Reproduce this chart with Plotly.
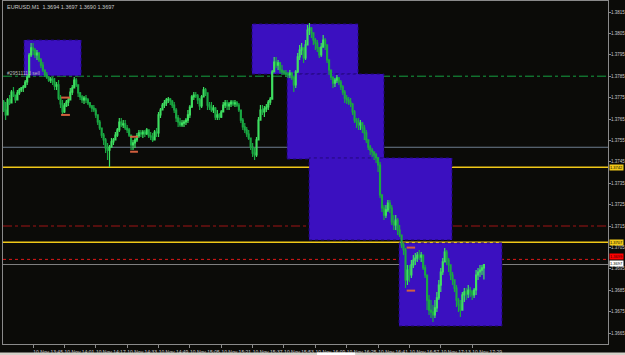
import plotly.graph_objects as go

# ---------------- data (EURUSD M1, 10 Nov 2010, 13:29 .. 17:35) ----------------
first_open = 1.37740
closes = [
    1.37729, 1.37692, 1.37669, 1.37739, 1.37725, 1.37776, 1.37762, 1.37739, 1.37772, 1.37786,
    1.37795, 1.37800, 1.37823, 1.37846, 1.37949, 1.37982, 1.37972, 1.37949, 1.37958, 1.37926,
    1.37902, 1.37879, 1.37856, 1.37846, 1.37832, 1.37837, 1.37823, 1.37804, 1.37809, 1.37748,
    1.37720, 1.37683, 1.37711, 1.37729, 1.37739, 1.37776, 1.37795, 1.37832, 1.37809, 1.37772,
    1.37753, 1.37739, 1.37748, 1.37739, 1.37725, 1.37711, 1.37701, 1.37692, 1.37669, 1.37636,
    1.37608, 1.37575, 1.37552, 1.37515, 1.37505, 1.37519, 1.37543, 1.37552, 1.37575, 1.37599,
    1.37636, 1.37622, 1.37627, 1.37608, 1.37599, 1.37575, 1.37529, 1.37538, 1.37552, 1.37571,
    1.37585, 1.37580, 1.37589, 1.37580, 1.37599, 1.37571, 1.37566, 1.37552, 1.37589, 1.37585,
    1.37669, 1.37692, 1.37715, 1.37725, 1.37739, 1.37743, 1.37734, 1.37715, 1.37692, 1.37655,
    1.37636, 1.37622, 1.37631, 1.37636, 1.37645, 1.37669, 1.37706, 1.37753, 1.37762, 1.37758,
    1.37739, 1.37711, 1.37753, 1.37786, 1.37772, 1.37715, 1.37706, 1.37692, 1.37701, 1.37659,
    1.37669, 1.37659, 1.37683, 1.37715, 1.37725, 1.37711, 1.37720, 1.37729, 1.37720, 1.37725,
    1.37715, 1.37692, 1.37645, 1.37613, 1.37599, 1.37580, 1.37561, 1.37519, 1.37491, 1.37482,
    1.37552, 1.37645, 1.37692, 1.37683, 1.37697, 1.37706, 1.37729, 1.37743, 1.37870, 1.37916,
    1.37902, 1.37912, 1.37879, 1.37870, 1.37865, 1.37860, 1.37856, 1.37865, 1.37842, 1.37809,
    1.37870, 1.37940, 1.37972, 1.37982, 1.37935, 1.37996, 1.38066, 1.38075, 1.38052, 1.38019,
    1.38005, 1.37982, 1.37949, 1.37986, 1.38019, 1.37996, 1.37926, 1.37879, 1.37846, 1.37818,
    1.37832, 1.37842, 1.37823, 1.37800, 1.37776, 1.37748, 1.37739, 1.37729, 1.37720, 1.37683,
    1.37645, 1.37636, 1.37622, 1.37631, 1.37608, 1.37585, 1.37552, 1.37519, 1.37505, 1.37496,
    1.37482, 1.37468, 1.37435, 1.37295, 1.37234, 1.37201, 1.37225, 1.37257, 1.37234, 1.37169,
    1.37155, 1.37178, 1.37131, 1.37108, 1.37061, 1.37038, 1.36898, 1.36944, 1.36921, 1.36968,
    1.36991, 1.37000, 1.37014, 1.37005, 1.37014, 1.36954, 1.36921, 1.36804, 1.36757, 1.36748,
    1.36734, 1.36767, 1.36814, 1.36874, 1.36935, 1.36982, 1.37028, 1.36991, 1.36968, 1.36921,
    1.36898, 1.36860, 1.36804, 1.36781, 1.36757, 1.36828, 1.36842, 1.36832, 1.36851, 1.36842,
    1.36828, 1.36851, 1.36921, 1.36935, 1.36944, 1.36954, 1.36970,
]
highs = [
    1.37748, 1.37739, 1.37729, 1.37748, 1.37762, 1.37786, 1.37800, 1.37762, 1.37786, 1.37795,
    1.37800, 1.37809, 1.37832, 1.37856, 1.37958, 1.38005, 1.38005, 1.37982, 1.37972, 1.37963,
    1.37935, 1.37916, 1.37879, 1.37870, 1.37851, 1.37846, 1.37846, 1.37842, 1.37823, 1.37832,
    1.37762, 1.37739, 1.37725, 1.37739, 1.37748, 1.37795, 1.37809, 1.37846, 1.37842, 1.37809,
    1.37776, 1.37762, 1.37758, 1.37762, 1.37748, 1.37729, 1.37715, 1.37715, 1.37701, 1.37659,
    1.37645, 1.37608, 1.37585, 1.37561, 1.37538, 1.37529, 1.37561, 1.37561, 1.37589, 1.37608,
    1.37655, 1.37655, 1.37645, 1.37645, 1.37622, 1.37608, 1.37566, 1.37552, 1.37561, 1.37585,
    1.37599, 1.37599, 1.37599, 1.37599, 1.37608, 1.37599, 1.37589, 1.37585, 1.37599, 1.37608,
    1.37683, 1.37701, 1.37725, 1.37739, 1.37748, 1.37753, 1.37748, 1.37739, 1.37729, 1.37701,
    1.37669, 1.37655, 1.37645, 1.37645, 1.37655, 1.37692, 1.37715, 1.37762, 1.37776, 1.37776,
    1.37767, 1.37748, 1.37762, 1.37800, 1.37795, 1.37762, 1.37729, 1.37729, 1.37715, 1.37706,
    1.37692, 1.37678, 1.37692, 1.37729, 1.37739, 1.37739, 1.37729, 1.37739, 1.37739, 1.37739,
    1.37734, 1.37725, 1.37692, 1.37655, 1.37631, 1.37613, 1.37599, 1.37561, 1.37538, 1.37515,
    1.37566, 1.37659, 1.37715, 1.37715, 1.37711, 1.37720, 1.37739, 1.37753, 1.37879, 1.37940,
    1.37940, 1.37926, 1.37916, 1.37902, 1.37879, 1.37879, 1.37870, 1.37879, 1.37870, 1.37851,
    1.37879, 1.37958, 1.37996, 1.38005, 1.37982, 1.38019, 1.38089, 1.38099, 1.38080, 1.38052,
    1.38029, 1.38019, 1.37986, 1.38005, 1.38043, 1.38029, 1.37986, 1.37926, 1.37879, 1.37846,
    1.37842, 1.37856, 1.37846, 1.37832, 1.37809, 1.37786, 1.37762, 1.37753, 1.37748, 1.37725,
    1.37692, 1.37655, 1.37655, 1.37645, 1.37636, 1.37622, 1.37599, 1.37552, 1.37529, 1.37515,
    1.37496, 1.37491, 1.37472, 1.37449, 1.37295, 1.37248, 1.37248, 1.37271, 1.37271, 1.37248,
    1.37201, 1.37201, 1.37187, 1.37155, 1.37108, 1.37071, 1.37047, 1.36968, 1.36968, 1.36991,
    1.37014, 1.37024, 1.37028, 1.37038, 1.37028, 1.37014, 1.36968, 1.36921, 1.36828, 1.36804,
    1.36781, 1.36804, 1.36842, 1.36898, 1.36954, 1.37000, 1.37047, 1.37038, 1.37000, 1.36968,
    1.36935, 1.36898, 1.36874, 1.36814, 1.36804, 1.36842, 1.36860, 1.36860, 1.36874, 1.36865,
    1.36851, 1.36860, 1.36944, 1.36954, 1.36968, 1.36968, 1.36970,
]
lows = [
    1.37715, 1.37683, 1.37645, 1.37706, 1.37715, 1.37739, 1.37753, 1.37725, 1.37739, 1.37762,
    1.37776, 1.37776, 1.37795, 1.37809, 1.37846, 1.37940, 1.37949, 1.37935, 1.37926, 1.37916,
    1.37888, 1.37870, 1.37846, 1.37837, 1.37823, 1.37818, 1.37809, 1.37786, 1.37786, 1.37739,
    1.37701, 1.37669, 1.37678, 1.37706, 1.37711, 1.37739, 1.37762, 1.37795, 1.37800, 1.37753,
    1.37739, 1.37725, 1.37720, 1.37725, 1.37715, 1.37701, 1.37683, 1.37683, 1.37655, 1.37622,
    1.37599, 1.37561, 1.37529, 1.37491, 1.37458, 1.37426, 1.37519, 1.37529, 1.37552, 1.37566,
    1.37589, 1.37613, 1.37608, 1.37599, 1.37585, 1.37566, 1.37505, 1.37505, 1.37515, 1.37543,
    1.37561, 1.37566, 1.37561, 1.37566, 1.37575, 1.37561, 1.37552, 1.37543, 1.37552, 1.37566,
    1.37566, 1.37655, 1.37692, 1.37701, 1.37711, 1.37725, 1.37715, 1.37701, 1.37678, 1.37636,
    1.37613, 1.37613, 1.37613, 1.37613, 1.37622, 1.37631, 1.37655, 1.37701, 1.37739, 1.37748,
    1.37720, 1.37692, 1.37701, 1.37753, 1.37758, 1.37692, 1.37692, 1.37683, 1.37678, 1.37645,
    1.37645, 1.37645, 1.37655, 1.37683, 1.37701, 1.37692, 1.37692, 1.37706, 1.37711, 1.37706,
    1.37706, 1.37683, 1.37631, 1.37599, 1.37585, 1.37566, 1.37552, 1.37505, 1.37472, 1.37458,
    1.37472, 1.37566, 1.37645, 1.37669, 1.37659, 1.37683, 1.37692, 1.37715, 1.37748, 1.37879,
    1.37888, 1.37879, 1.37865, 1.37856, 1.37856, 1.37846, 1.37842, 1.37842, 1.37832, 1.37776,
    1.37795, 1.37865, 1.37926, 1.37949, 1.37912, 1.37926, 1.38019, 1.38043, 1.38029, 1.37996,
    1.37972, 1.37963, 1.37935, 1.37940, 1.37986, 1.37972, 1.37912, 1.37856, 1.37832, 1.37795,
    1.37800, 1.37818, 1.37809, 1.37786, 1.37762, 1.37725, 1.37720, 1.37715, 1.37706, 1.37669,
    1.37631, 1.37608, 1.37599, 1.37599, 1.37585, 1.37552, 1.37538, 1.37505, 1.37482, 1.37472,
    1.37458, 1.37444, 1.37402, 1.37281, 1.37215, 1.37178, 1.37187, 1.37215, 1.37211, 1.37155,
    1.37131, 1.37131, 1.37108, 1.37099, 1.37047, 1.37014, 1.36860, 1.36874, 1.36888, 1.36907,
    1.36954, 1.36968, 1.36982, 1.36991, 1.36982, 1.36944, 1.36907, 1.36757, 1.36734, 1.36720,
    1.36701, 1.36720, 1.36748, 1.36804, 1.36842, 1.36921, 1.36982, 1.36968, 1.36935, 1.36898,
    1.36874, 1.36842, 1.36771, 1.36748, 1.36725, 1.36757, 1.36795, 1.36804, 1.36814, 1.36818,
    1.36804, 1.36814, 1.36828, 1.36898, 1.36912, 1.36921, 1.36900,
]

# time axis: one bar per minute starting 13:29; a label every 16 bars
x_tick_bars = [0, 16, 32, 48, 64, 80, 96, 112, 128, 144, 160, 176, 192, 208, 224, 240]
x_tick_labels = ["10 Nov 2010", "10 Nov 13:45", "10 Nov 14:01", "10 Nov 14:17",
                 "10 Nov 14:33", "10 Nov 14:49", "10 Nov 15:05", "10 Nov 15:21",
                 "10 Nov 15:37", "10 Nov 15:53", "10 Nov 16:09", "10 Nov 16:25",
                 "10 Nov 16:41", "10 Nov 16:57", "10 Nov 17:13", "10 Nov 17:29"]
y_tick_vals = [1.3665, 1.3675, 1.3685, 1.3695, 1.3705, 1.3715, 1.3725, 1.3735,
               1.3745, 1.3755, 1.3765, 1.3775, 1.3785, 1.3795, 1.3805, 1.3815]
y_tick_labels = ["%.4f" % v for v in y_tick_vals]

# drawn rectangles (bar index from/to, price top/bottom)
rect_x0 = [11.4, 127.7, 145.6, 156.8, 202.7]
rect_x1 = [40.5, 181.8, 195.0, 229.7, 255.2]
rect_top = [1.38019, 1.38094, 1.37860, 1.37468, 1.37071]
rect_bot = [1.37852, 1.37860, 1.37463, 1.37085, 1.36683]

# trade markers (short orange dashes at entry / exit prices)
mark_x0 = [30.3, 65.5, 206.6]
mark_x1 = [34.8, 69.5, 210.9]
mark_top = [1.37750, 1.37567, 1.37049]
mark_bot = [1.37669, 1.37497, 1.36848]

# horizontal price levels
sell_level = 1.37850
grey_level = 1.37518
yellow_hi = 1.37424
stop_level = 1.37150
yellow_lo = 1.37074
red_level = 1.36994
bid_level = 1.36970

BG = "#0b0b08"
AX = "#8a8a8a"
TXT = "#c8c8c8"
FONT = "Liberation Sans"

n = len(closes)
xs = list(range(n))
opens = [first_open] + closes[:-1]

fig = go.Figure()
fig.add_trace(go.Candlestick(
    x=xs, open=opens, high=highs, low=lows, close=closes,
    increasing=dict(line=dict(color="#3ee060", width=1.2), fillcolor="#a0ffb0"),
    decreasing=dict(line=dict(color="#1aa842", width=1.2), fillcolor="#0e7a2c"),
    whiskerwidth=0, hoverinfo="skip", showlegend=False))

mx, my = [], []
for a, b, t, btm in zip(mark_x0, mark_x1, mark_top, mark_bot):
    mx += [a, b, None, a, b, None]
    my += [t, t, None, btm, btm, None]
fig.add_trace(go.Scatter(x=mx, y=my, mode="lines", line=dict(color="#d2603e", width=2),
                         hoverinfo="skip", showlegend=False))

shapes = []
# red dotted level sits behind rectangles
shapes.append(dict(type="line", xref="paper", x0=0, x1=1, yref="y", y0=red_level, y1=red_level,
                   line=dict(color="#e01818", width=1, dash="dot"), layer="below"))
for a, b, t, btm in zip(rect_x0, rect_x1, rect_top, rect_bot):
    shapes.append(dict(type="rect", xref="x", yref="y", x0=a, x1=b, y0=btm, y1=t,
                       fillcolor="#3b10c0", line=dict(color="#22087a", width=1, dash="dot"),
                       layer="below"))
for lvl, col, dash, w in [(sell_level, "#15a040", "dashdot", 1),
                          (grey_level, "#6d7e8e", "solid", 1),
                          (yellow_hi, "#f0c818", "solid", 1.5),
                          (stop_level, "#a01414", "dashdot", 1),
                          (yellow_lo, "#f0c818", "solid", 1.5),
                          (bid_level, "#808080", "solid", 1)]:
    shapes.append(dict(type="line", xref="paper", x0=0, x1=1, yref="y", y0=lvl, y1=lvl,
                       line=dict(color=col, width=w, dash=dash), layer="below"))
# window strip at the very bottom
shapes.append(dict(type="rect", xref="paper", yref="paper", x0=-0.01, x1=1.03,
                   y0=-0.0325, y1=-0.0245, fillcolor="#d4d0c8", line=dict(width=0)))
shapes.append(dict(type="rect", xref="paper", yref="paper", x0=0.519, x1=0.582,
                   y0=-0.0325, y1=-0.0245, fillcolor="#ffffff", line=dict(width=0)))

annotations = [
    dict(text="EURUSD,M1  1.3694 1.3697 1.3690 1.3697", xref="paper", yref="paper",
         x=0.004, y=0.997, xanchor="left", yanchor="top", showarrow=False,
         font=dict(family=FONT, size=5.5, color=TXT)),
    dict(text="#29511113 sell", xref="paper", yref="y", x=0.004, y=1.37866,
         xanchor="left", yanchor="middle", showarrow=False,
         font=dict(family=FONT, size=5, color="#b8b8b8")),
]
for lvl, bg, fg, ys in [(yellow_hi, "#f0c818", "#000000", 0),
                        (yellow_lo, "#f0c818", "#000000", 0),
                        (red_level, "#ff0000", "#400000", 3),
                        (bid_level, "#ffffff", "#000000", 1.5)]:
    annotations.append(dict(text="%.4f" % lvl, xref="paper", yref="y", x=1, y=lvl,
                            xanchor="left", yanchor="middle", xshift=1, yshift=ys,
                            showarrow=False, bgcolor=bg, borderpad=0,
                            font=dict(family=FONT, size=4, color=fg)))

fig.update_layout(
    width=625, height=355,
    margin=dict(l=3, r=17, t=1, b=11, autoexpand=False),
    paper_bgcolor=BG, plot_bgcolor=BG,
    shapes=shapes, annotations=annotations,
    showlegend=False,
    xaxis=dict(range=[0.663, 309.3], showgrid=False, zeroline=False,
               showline=True, linecolor=AX, linewidth=1, mirror=True,
               ticks="outside", ticklen=3, tickcolor=AX,
               tickvals=x_tick_bars, ticktext=x_tick_labels, tickangle=0,
               tickfont=dict(family=FONT, size=5, color=TXT),
               ticklabelshift=15, ticklabelstandoff=0, automargin=False,
               rangeslider=dict(visible=False), fixedrange=True),
    yaxis=dict(range=[1.365986, 1.382014], side="right", showgrid=False, zeroline=False,
               showline=True, linecolor=AX, linewidth=1, mirror=True,
               ticks="outside", ticklen=2, tickcolor=AX,
               tickvals=y_tick_vals, ticktext=y_tick_labels, automargin=False,
               ticklabelstandoff=-1,
               tickfont=dict(family=FONT, size=4.5, color=TXT), fixedrange=True),
)

fig.write_html("out.html", config={"displayModeBar": False})
